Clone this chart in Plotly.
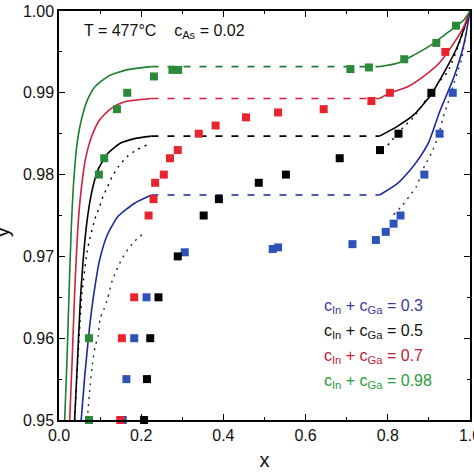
import plotly.graph_objects as go

# ---------------- data ----------------
# experimental points (x, y) per composition c_In + c_Ga
green_x = [0.073, 0.073, 0.097, 0.110, 0.141, 0.166, 0.231, 0.276, 0.290, 0.709, 0.754, 0.840, 0.918, 0.966]
green_y = [0.950, 0.960, 0.980, 0.982, 0.988, 0.990, 0.992, 0.9928, 0.9928, 0.9929, 0.9931, 0.9941, 0.9961, 0.9982]

red_x = [0.149, 0.153, 0.183, 0.218, 0.230, 0.234, 0.255, 0.270, 0.289, 0.340, 0.381, 0.455, 0.533, 0.644, 0.760, 0.805, 0.940]
red_y = [0.950, 0.960, 0.965, 0.975, 0.977, 0.979, 0.980, 0.982, 0.983, 0.985, 0.986, 0.987, 0.9876, 0.988, 0.989, 0.990, 0.995]

black_x = [0.207, 0.214, 0.222, 0.242, 0.289, 0.352, 0.389, 0.486, 0.552, 0.683, 0.781, 0.826, 0.906]
black_y = [0.950, 0.955, 0.960, 0.965, 0.970, 0.975, 0.977, 0.979, 0.980, 0.982, 0.983, 0.985, 0.990]

blue_x = [0.155, 0.164, 0.183, 0.213, 0.306, 0.520, 0.533, 0.714, 0.771, 0.795, 0.814, 0.831, 0.889, 0.926, 0.958]
blue_y = [0.950, 0.955, 0.960, 0.965, 0.9705, 0.9709, 0.9711, 0.9715, 0.9720, 0.9730, 0.974, 0.975, 0.980, 0.985, 0.990]

# model curves (solid): left branch and right branch
green_left_x = [0.0138, 0.0195, 0.0244, 0.030, 0.0365, 0.044, 0.0545, 0.069, 0.087, 0.119, 0.164, 0.225]
green_left_y = [0.950, 0.9573, 0.9655, 0.9736, 0.9797, 0.9838, 0.9867, 0.9891, 0.9907, 0.9920, 0.9928, 0.9932]
green_right_x = [0.780, 0.823, 0.863, 0.904, 0.944, 0.985, 1.0]
green_right_y = [0.9932, 0.9936, 0.9946, 0.9958, 0.9973, 0.9989, 1.0]

red_left_x = [0.026, 0.032, 0.038, 0.046, 0.053, 0.064, 0.079, 0.099, 0.127, 0.160, 0.225]
red_left_y = [0.950, 0.9573, 0.9655, 0.9736, 0.9777, 0.9818, 0.9846, 0.9867, 0.9881, 0.9889, 0.9893]
red_right_x = [0.780, 0.806, 0.847, 0.887, 0.928, 0.961, 0.985, 1.0]
red_right_y = [0.9893, 0.9900, 0.9907, 0.9920, 0.9938, 0.9961, 0.9981, 1.0]

black_left_x = [0.038, 0.045, 0.053, 0.0665, 0.079, 0.095, 0.119, 0.148, 0.184, 0.225]
black_left_y = [0.950, 0.9573, 0.9655, 0.9736, 0.9777, 0.9806, 0.9826, 0.9838, 0.9844, 0.9847]
black_right_x = [0.780, 0.823, 0.863, 0.904, 0.936, 0.969, 1.0]
black_right_y = [0.9847, 0.9859, 0.9873, 0.9897, 0.9924, 0.9956, 1.0]

blue_left_x = [0.054, 0.0625, 0.0745, 0.085, 0.099, 0.119, 0.144, 0.184, 0.225]
blue_left_y = [0.950, 0.9553, 0.9614, 0.9655, 0.9696, 0.9728, 0.9749, 0.9765, 0.9775]
blue_right_x = [0.780, 0.823, 0.855, 0.879, 0.900, 0.927, 0.960, 0.985, 1.0]
blue_right_y = [0.9775, 0.9789, 0.9806, 0.9822, 0.9840, 0.9878, 0.9918, 0.9959, 1.0]

# tie-line plateaus (dashed)
plateau_x = [0.225, 0.780]
plateau_levels = {"green": 0.9932, "red": 0.9893, "black": 0.9847, "blue": 0.9775}

# alternative model (dotted)
black_dot_left_x = [0.038, 0.056, 0.0706, 0.0894, 0.099, 0.107, 0.118, 0.129, 0.145, 0.166, 0.188, 0.213]
black_dot_left_y = [0.950, 0.9655, 0.9712, 0.9749, 0.9761, 0.9773, 0.9785, 0.9797, 0.9810, 0.9822, 0.9830, 0.9836]
black_dot_right_x = [0.800, 0.836, 0.861, 0.895, 0.926, 0.946, 0.975, 1.0]
black_dot_right_y = [0.9836, 0.9857, 0.9869, 0.9893, 0.9914, 0.9926, 0.9962, 1.0]

blue_dot_left_x = [0.069, 0.0706, 0.076, 0.081, 0.088, 0.095, 0.100, 0.109, 0.118, 0.130, 0.140, 0.150, 0.164, 0.183, 0.205]
blue_dot_left_y = [0.950, 0.9512, 0.9543, 0.9567, 0.9590, 0.9602, 0.9624, 0.9635, 0.9648, 0.9671, 0.9683, 0.9694, 0.9706, 0.9718, 0.9728]
blue_dot_right_x = [0.814, 0.835, 0.853, 0.869, 0.889, 0.906, 0.922, 0.934, 0.946, 0.958, 0.970, 0.979, 1.0]
blue_dot_right_y = [0.9751, 0.9762, 0.9774, 0.9785, 0.9810, 0.9826, 0.9846, 0.9869, 0.9887, 0.9907, 0.9926, 0.9940, 1.0]

legend_labels = ["c<sub>In</sub> + c<sub>Ga</sub> = 0.3",
                 "c<sub>In</sub> + c<sub>Ga</sub> = 0.5",
                 "c<sub>In</sub> + c<sub>Ga</sub> = 0.7",
                 "c<sub>In</sub> + c<sub>Ga</sub> = 0.98"]
x_ticks = [0.0, 0.2, 0.4, 0.6, 0.8, 1.0]
y_ticks = [0.95, 0.96, 0.97, 0.98, 0.99, 1.00]

# ---------------- styles ----------------
FONT = "Arial, Liberation Sans, sans-serif"
C = {
    "green": dict(line="#1e7d32", mark="#2a8a3a", text="#2a9a3a"),
    "red": dict(line="#d0203a", mark="#e8242e", text="#c0203c"),
    "black": dict(line="#000000", mark="#000000", text="#111111"),
    "blue": dict(line="#1c2a96", mark="#2d52b8", text="#3c3c9c"),
}

fig = go.Figure()

def add_line(x, y, color, dash="solid", width=1.6):
    fig.add_trace(go.Scatter(x=x, y=y, mode="lines", line=dict(color=color, width=width, dash=dash, shape="spline", smoothing=0.6),
                             hoverinfo="skip", showlegend=False))

# dotted alternative model
add_line(blue_dot_left_x, blue_dot_left_y, "#2a2a55", dash="2px,5px", width=1.4)
add_line(blue_dot_right_x, blue_dot_right_y, "#2a2a55", dash="2px,5px", width=1.4)
add_line(black_dot_left_x, black_dot_left_y, "#000000", dash="2px,5px", width=1.4)
add_line(black_dot_right_x, black_dot_right_y, "#000000", dash="2px,5px", width=1.4)

series = [
    ("blue", blue_left_x, blue_left_y, blue_right_x, blue_right_y, blue_x, blue_y),
    ("black", black_left_x, black_left_y, black_right_x, black_right_y, black_x, black_y),
    ("red", red_left_x, red_left_y, red_right_x, red_right_y, red_x, red_y),
    ("green", green_left_x, green_left_y, green_right_x, green_right_y, green_x, green_y),
]
for name, lx, ly, rx, ry, px, py in series:
    col = C[name]
    add_line(lx, ly, col["line"])
    add_line(rx, ry, col["line"])
    lvl = plateau_levels[name]
    add_line(plateau_x, [lvl, lvl], col["line"], dash="7px,9px")

for name, lx, ly, rx, ry, px, py in series:
    col = C[name]
    fig.add_trace(go.Scatter(x=px, y=py, mode="markers",
                             marker=dict(symbol="square", size=8, color=col["mark"], line=dict(width=0)),
                             hoverinfo="skip", showlegend=False, cliponaxis=False))

# legend text
for i, (lab, name) in enumerate(zip(legend_labels, ["blue", "black", "red", "green"])):
    fig.add_annotation(x=0.64, y=0.277 - i * 0.0606, xref="paper", yref="paper", text=lab,
                       showarrow=False, xanchor="left", yanchor="middle",
                       font=dict(family=FONT, size=16, color=C[name]["text"]))

fig.add_annotation(x=0.055, y=0.95, xref="paper", yref="paper",
                   text="T = 477\u00b0C    c<sub>As</sub> = 0.02", showarrow=False,
                   xanchor="left", yanchor="middle", font=dict(family=FONT, size=16, color="#111111"))

# y-axis title, mostly cut off at left edge as in reference
fig.add_annotation(x=-0.138, y=0.46, xref="paper", yref="paper", text="y", textangle=-90,
                   showarrow=False, xanchor="center", yanchor="middle",
                   font=dict(family=FONT, size=20, color="#111111"))

axis_common = dict(showline=True, linecolor="black", linewidth=1.5, mirror="ticks",
                   ticks="inside", ticklen=6, tickwidth=1.2, tickcolor="black",
                   showgrid=False, zeroline=False, automargin=False, ticklabeloverflow="allow",
                   tickfont=dict(family=FONT, size=16, color="#111111"))

fig.update_xaxes(range=[0, 1], tickvals=x_ticks, tickformat=".1f",
                 minor=dict(ticks="inside", ticklen=3, dtick=0.1, tickcolor="black", tickwidth=1.2),
                 title=dict(text="x", font=dict(family=FONT, size=20, color="#111111"), standoff=10),
                 **axis_common)
fig.update_yaxes(range=[0.95, 1.0], tickvals=y_ticks, tickformat=".2f",
                 minor=dict(ticks="inside", ticklen=3, dtick=0.005, tickcolor="black", tickwidth=1.2),
                 **axis_common)

fig.update_layout(width=474, height=474, margin=dict(l=59, r=4, t=11, b=54, autoexpand=False),
                  plot_bgcolor="white", paper_bgcolor="white", showlegend=False,
                  font=dict(family=FONT))

fig.write_html("out.html", config={"displayModeBar": False},
               post_script="document.body.style.margin='0px';document.body.style.overflow='hidden';")
